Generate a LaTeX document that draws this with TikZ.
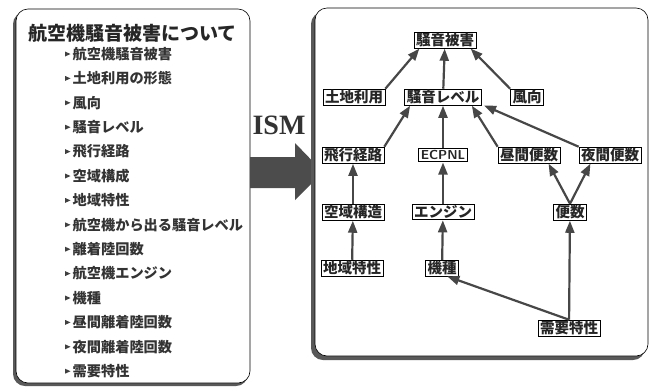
\documentclass[tikz,border=0pt]{standalone}
\usepackage{fontspec}
\setmainfont{Liberation Serif}
\newfontfamily\jp{Noto Sans CJK JP}
\usetikzlibrary{arrows.meta}
\definecolor{edge}{gray}{0.28}
\definecolor{shadowc}{gray}{0.35}
\tikzset{
  nd/.style={draw=black, line width=0.7pt, fill=white, inner xsep=2pt, inner ysep=1pt, font=\jp\fontsize{14.5}{15}\selectfont\bfseries, text=black!85},
  item/.style={anchor=west, inner sep=0pt, font=\jp\fontsize{14.2}{15}\selectfont\bfseries, text=black!80},
  ar/.style={draw=edge, line width=2.2pt, -{Triangle[length=12pt,width=9pt]}, shorten >=0.5pt},
  bul/.style={fill=black!75}
}
\begin{document}
\begin{tikzpicture}[x=1pt,y=-1pt]
\useasboundingbox (0,0) rectangle (656,389);
% left panel
\fill[shadowc, rounded corners=12pt] (13,12) rectangle (248,386);
\draw[fill=white, line width=0.6pt, rounded corners=12pt] (16,9) rectangle (250,383);
\node[anchor=west, inner sep=0pt, font=\jp\fontsize{19}{20}\selectfont\bfseries, text=black!85] (title) at (28,33) {航空機騒音被害について};
\foreach \t [count=\i] in {航空機騒音被害,土地利用の形態,風向,騒音レベル,飛行経路,空域構成,地域特性,航空機から出る騒音レベル,離着陸回数,航空機エンジン,機種,昼間離着陸回数,夜間離着陸回数,需要特性}{
  \pgfmathsetmacro\yy{54+(\i-1)*24.4}
  \fill[bul] (65,\yy-2.5) -- (70.5,\yy) -- (65,\yy+2.5) -- cycle;
  \node[item] (it\i) at (72.5,\yy) {\t};
}
% ISM and block arrow
\node[font=\bfseries\fontsize{28}{30}\selectfont, text=black!80, inner sep=0pt] (ism) at (279,125) {ISM};
\fill[black!70] (250,157) -- (295,157) -- (295,143) -- (323,172) -- (295,200) -- (295,188) -- (250,188) -- cycle;
% right panel
\fill[shadowc, rounded corners=12pt] (311,12) rectangle (645,360);
\draw[fill=white, line width=0.6pt, rounded corners=12pt] (315,8) rectangle (648,356);
% nodes
\node[nd] (hg) at (445,40) {騒音被害};
\node[nd] (td) at (354,97) {土地利用};
\node[nd] (sl) at (443,97) {騒音レベル};
\node[nd] (fk) at (527,97) {風向};
\node[nd] (hk) at (353,155) {飛行経路};
\node[nd, font=\sffamily\fontsize{13}{14}\selectfont\bfseries, inner ysep=2pt] (ec) at (443,155) {ECPNL};
\node[nd] (cb) at (529,155) {昼間便数};
\node[nd] (yb) at (610,155) {夜間便数};
\node[nd] (kk) at (353,212) {空域構造};
\node[nd] (en) at (443,212) {エンジン};
\node[nd] (bs) at (570,212) {便数};
\node[nd] (ct) at (352,268) {地域特性};
\node[nd] (ks) at (442,268) {機種};
\node[nd] (jt) at (569,328) {需要特性};
% edges
\draw[ar] (td.north east) -- ([xshift=6pt]hg.south west);
\draw[ar] (sl) -- (hg);
\draw[ar] (fk.north west) -- ([xshift=-6pt]hg.south east);
\draw[ar] (hk.north east) -- ([xshift=6pt]sl.south west);
\draw[ar] (ec) -- (sl);
\draw[ar] (cb.north west) -- ([xshift=-10pt]sl.south east);
\draw[ar] (yb.north west) -- ([xshift=2pt]sl.south east);
\draw[ar] (bs.north) -- ([xshift=-12pt]cb.south east);
\draw[ar] (bs.north) -- ([xshift=12pt]yb.south west);
\draw[ar] (kk) -- (hk);
\draw[ar] (en) -- (ec);
\draw[ar] (ct) -- (kk);
\draw[ar] (ks) -- (en);
\draw[ar] (jt.north) -- ([xshift=-12pt]ks.south east);
\draw[ar] (jt) -- (bs);
\end{tikzpicture}
\end{document}
